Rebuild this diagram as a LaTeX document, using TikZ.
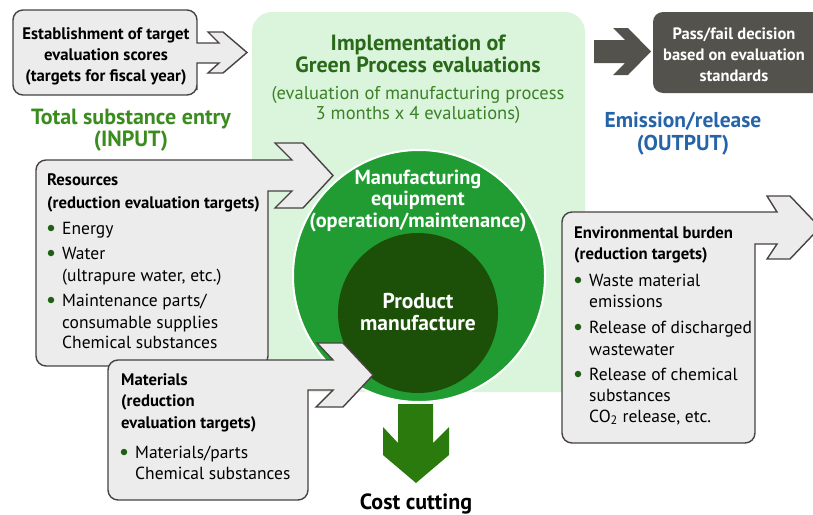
\documentclass[tikz,border=0pt]{standalone}
\usepackage{fontspec}
\setmainfont{PT Sans}
\definecolor{bgGreen}{RGB}{218,245,220}
\definecolor{ringGreen}{RGB}{32,156,50}
\definecolor{coreGreen}{RGB}{28,80,8}
\definecolor{inGreen}{RGB}{58,140,30}
\definecolor{titleGreen}{RGB}{42,104,26}
\definecolor{subGreen}{RGB}{60,128,40}
\definecolor{outBlue}{RGB}{38,100,168}
\definecolor{darkBox}{RGB}{84,82,76}
\definecolor{boxFill}{RGB}{236,236,236}
\definecolor{boxLine}{RGB}{72,66,66}
\definecolor{dotGreen}{RGB}{30,96,18}
\definecolor{cutGreen}{RGB}{42,122,14}
\begin{document}
\begin{tikzpicture}[x=1pt,y=-1pt,
  panel/.style={fill=boxFill,draw=boxLine,line width=1.4pt,line join=miter},
  txt/.style={inner sep=0pt,font=\fontsize{17.5}{19}\selectfont},
  ln/.style={txt,anchor=base west},
  hd/.style={ln,font=\fontsize{16.7}{19}\selectfont\bfseries},
  ctr/.style={txt,anchor=base},
  boldc/.style={ctr,font=\fontsize{16.7}{19}\selectfont\bfseries},
  dot/.style={circle,fill=dotGreen,inner sep=0pt,minimum size=6.5pt},
  big/.style={ctr,font=\fontsize{22}{24}\selectfont\bfseries},
  ring/.style={ctr,white,font=\fontsize{20.4}{23}\selectfont\bfseries},
  verdict/.style={ctr,white,font=\fontsize{16.5}{19}\selectfont\bfseries}]
\useasboundingbox (0,0) rectangle (813,514);
\clip (0,0) rectangle (813,514);

% evaluation area
\fill[bgGreen,rounded corners=20pt] (252,12) rectangle (585,392);

% equipment ring and product core
\draw[fill=ringGreen,draw=white,line width=2pt] (419,276) circle[radius=126];
\fill[coreGreen] (418,313) circle[radius=80];

% target scores box with arrow
\draw[panel] (197,63) -- (219,63) -- (208,73) -- (223,73) -- (247,52.5)
  -- (223,32) -- (208,32) -- (219,43) -- (197,43) -- (197,30)
  [rounded corners=10pt] -- (197,10) -- (13,10) -- (13,95) -- (197,95)
  -- (197,80) [sharp corners] -- cycle;

% pass/fail arrow and box
\fill[darkBox] (594,63) -- (625,63) -- (613,75) -- (628,75) -- (651,51.5)
  -- (628,28) -- (613,28) -- (625,40) -- (594,40) -- cycle;
\fill[darkBox,rounded corners=10pt] (653,12) rectangle (840,93);

% resources box with arrow
\draw[panel] (268,191) -- (292,191) -- (275,208) -- (303,208) -- (333,175.5)
  -- (303,143) -- (275,143) -- (292,160) -- (150,160)
  [rounded corners=10pt] -- (36,160) -- (36,366) -- (268,366)
  -- (268,300) [sharp corners] -- cycle;

% materials box with arrow
\draw[panel] (308,390) -- (333,390) -- (316,407) -- (343,407) -- (373,375)
  -- (343,343) -- (317,343) -- (333,360) -- (250,360)
  [rounded corners=10pt] -- (108,360) -- (108,500) -- (308,500)
  -- (308,450) [sharp corners] -- cycle;

% environmental burden box with arrow
\draw[panel] (755,244) -- (777,244) -- (767,259) -- (790,259) -- (820,227.5)
  -- (790,196) -- (767,196) -- (777,212) -- (700,212)
  [rounded corners=10pt] -- (562,212) -- (562,443) -- (755,443)
  -- (755,400) [sharp corners] -- cycle;

% cost cutting arrow
\fill[cutGreen] (398,404) -- (433,404) -- (433,443) -- (449,427) -- (449,455)
  -- (416,483) -- (383,455) -- (383,427) -- (398,443) -- cycle;

% headings
\node[boldc] (t1) at (106,39) {Establishment of target};
\node[boldc] (t2) at (106,60) {evaluation scores};
\node[boldc] (t3) at (106,81) {(targets for fiscal year)};
\node[big,inGreen] (in1) at (131,124) {Total substance entry};
\node[big,inGreen] (in2) at (131,146) {(INPUT)};
\node[big,titleGreen] (g1) at (418,50) {Implementation of};
\node[big,titleGreen] (g2) at (418,72) {Green Process evaluations};
\node[ctr,subGreen,font=\fontsize{18.5}{21}\selectfont] (g3) at (418,99) {(evaluation of manufacturing process};
\node[ctr,subGreen,font=\fontsize{18.5}{21}\selectfont] (g4) at (418,119) {3 months x 4 evaluations)};
\node[verdict] (p1) at (734,39) {Pass/fail decision};
\node[verdict] (p2) at (734,60) {based on evaluation};
\node[verdict] (p3) at (734,81) {standards};
\node[big,outBlue,font=\fontsize{21.5}{24}\selectfont\bfseries] (o1) at (683,127) {Emission/release};
\node[big,outBlue,font=\fontsize{21.5}{24}\selectfont\bfseries] (o2) at (683,150) {(OUTPUT)};

% circle labels
\node[ring] (m1) at (418,184) {Manufacturing};
\node[ring] (m2) at (418,205) {equipment};
\node[ring] (m3) at (418,227) {(operation/maintenance)};
\node[ring,font=\fontsize{21.5}{24}\selectfont\bfseries] (c1) at (418,308) {Product};
\node[ring,font=\fontsize{21.5}{24}\selectfont\bfseries] (c2) at (418,330) {manufacture};
\node[big,black] (cc) at (416,509) {Cost cutting};

% resources list
\node[hd] (r1) at (47,185) {Resources};
\node[hd] (r2) at (47,208) {(reduction evaluation targets)};
\node[dot] (rd1) at (51,228) {};
\node[ln] (r3) at (62,234) {Energy};
\node[dot] (rd2) at (51,253) {};
\node[ln] (r4) at (62,259) {Water};
\node[ln] (r5) at (62,281) {(ultrapure water, etc.)};
\node[dot] (rd3) at (51,300) {};
\node[ln] (r6) at (62,306) {Maintenance parts/};
\node[ln] (r7) at (62,328) {consumable supplies};
\node[ln] (r8) at (62,348) {Chemical substances};

% materials list
\node[hd] (a1) at (121,385) {Materials};
\node[hd] (a2) at (121,406) {(reduction};
\node[hd] (a3) at (121,428) {evaluation targets)};
\node[dot] (ad1) at (124,452) {};
\node[ln] (a4) at (135,458) {Materials/parts};
\node[ln] (a5) at (135,479) {Chemical substances};

% environmental burden list
\node[hd] (e1) at (574,238) {Environmental burden};
\node[hd] (e2) at (574,259) {(reduction targets)};
\node[dot] (ed1) at (578,280) {};
\node[ln] (e3) at (589,286) {Waste material};
\node[ln] (e4) at (589,307) {emissions};
\node[dot] (ed2) at (578,327) {};
\node[ln] (e5) at (589,333) {Release of discharged};
\node[ln] (e6) at (589,355) {wastewater};
\node[dot] (ed3) at (578,374) {};
\node[ln] (e7) at (589,380) {Release of chemical};
\node[ln] (e8) at (589,401) {substances};
\node[ln] (e9) at (589,422) {CO\textsubscript{2} release, etc.};
\end{tikzpicture}
\end{document}
